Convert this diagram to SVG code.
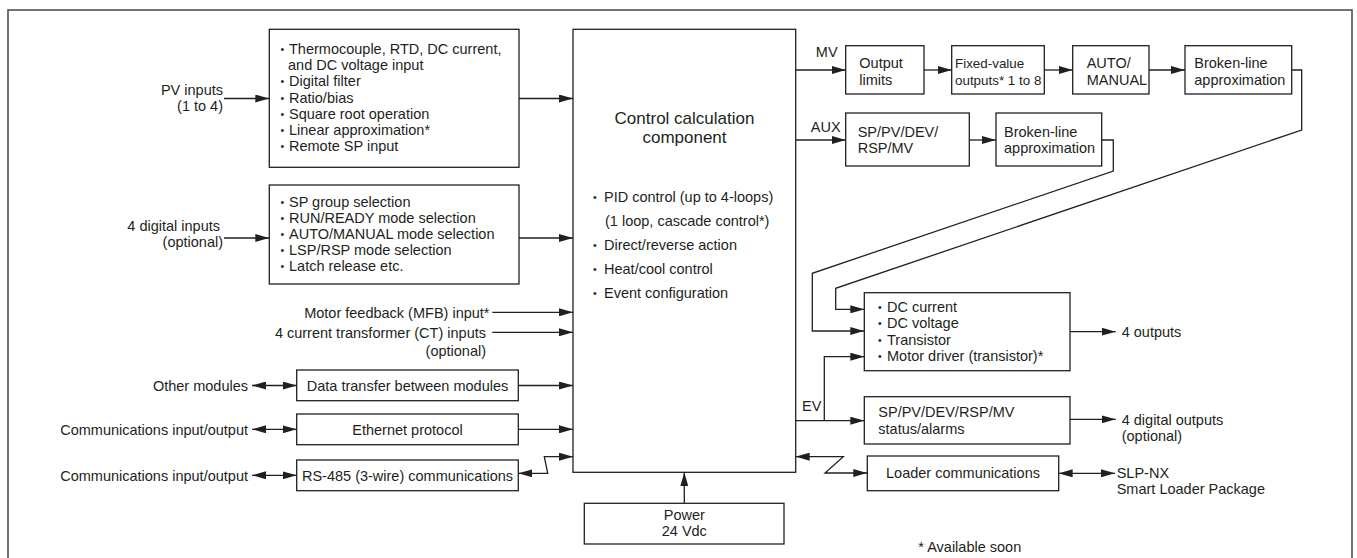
<svg xmlns="http://www.w3.org/2000/svg" width="1357" height="558" viewBox="0 0 1357 558">
<style>
text{font-family:"Liberation Sans",Arial,Helvetica,sans-serif;font-size:14.5px;fill:#231f20}
.b{font-size:10.5px}
.sm{font-size:13.4px}
.title{font-size:17px}
.mid{text-anchor:middle}
.end{text-anchor:end}
.box{fill:#fff;stroke:#231f20;stroke-width:1.3}
.ln{fill:none;stroke:#231f20;stroke-width:1.3}
.ar{marker-end:url(#ah)}
.ar2{marker-start:url(#ah);marker-end:url(#ah)}
</style>
<defs>
<marker id="ah" viewBox="0 0 14 8" refX="14" refY="4" markerWidth="14" markerHeight="8" markerUnits="userSpaceOnUse" orient="auto-start-reverse">
<path d="M0,0 L14,4 L0,8 z" fill="#231f20"/>
</marker>
</defs>
<rect width="1357" height="558" fill="#fff"/>
<path d="M8,558 V10 H1352 V558" fill="none" stroke="#444" stroke-width="1.5"/>

<g id="labels-left">
<text class="end" x="223" y="95">PV inputs</text>
<text class="end" x="223" y="111">(1 to 4)</text>
<text class="end" x="220" y="231">4 digital inputs</text>
<text class="end" x="223" y="247">(optional)</text>
<text class="end" x="489.5" y="317.5">Motor feedback (MFB) input*</text>
<text class="end" x="486" y="337.5">4 current transformer (CT) inputs</text>
<text class="end" x="486" y="356">(optional)</text>
<text class="end" x="248" y="390.5">Other modules</text>
<text class="end" x="248" y="434.5">Communications input/output</text>
<text class="end" x="248" y="480.5">Communications input/output</text>
</g>

<g id="node-pv">
<rect class="box" x="269.3" y="29.3" width="249.7" height="138"/>
<text x="280.5" y="54"><tspan class="b" dy="-1">•</tspan><tspan x="289" dy="1">Thermocouple, RTD, DC current,</tspan></text>
<text x="288" y="70">and DC voltage input</text>
<text x="280.5" y="86"><tspan class="b" dy="-1">•</tspan><tspan x="289" dy="1">Digital filter</tspan></text>
<text x="280.5" y="102.5"><tspan class="b" dy="-1">•</tspan><tspan x="289" dy="1">Ratio/bias</tspan></text>
<text x="280.5" y="118.5"><tspan class="b" dy="-1">•</tspan><tspan x="289" dy="1">Square root operation</tspan></text>
<text x="280.5" y="134.5"><tspan class="b" dy="-1">•</tspan><tspan x="289" dy="1">Linear approximation*</tspan></text>
<text x="280.5" y="150.5"><tspan class="b" dy="-1">•</tspan><tspan x="289" dy="1">Remote SP input</tspan></text>
</g>

<g id="node-digital">
<rect class="box" x="269.3" y="185" width="249.7" height="99"/>
<text x="280.5" y="206.5"><tspan class="b" dy="-1">•</tspan><tspan x="289" dy="1">SP group selection</tspan></text>
<text x="280.5" y="222.5"><tspan class="b" dy="-1">•</tspan><tspan x="289" dy="1">RUN/READY mode selection</tspan></text>
<text x="280.5" y="238.5"><tspan class="b" dy="-1">•</tspan><tspan x="289" dy="1">AUTO/MANUAL mode selection</tspan></text>
<text x="280.5" y="254.5"><tspan class="b" dy="-1">•</tspan><tspan x="289" dy="1">LSP/RSP mode selection</tspan></text>
<text x="280.5" y="270.5"><tspan class="b" dy="-1">•</tspan><tspan x="289" dy="1">Latch release etc.</tspan></text>
</g>

<g id="node-datatransfer">
<rect class="box" x="296.7" y="370" width="221.6" height="30.7"/>
<text class="mid" x="407.5" y="391">Data transfer between modules</text>
</g>
<g id="node-ethernet">
<rect class="box" x="296.7" y="414" width="221.6" height="30.7"/>
<text class="mid" x="407.5" y="434.5">Ethernet protocol</text>
</g>
<g id="node-rs485">
<rect class="box" x="296.7" y="460" width="221.6" height="30.7"/>
<text class="mid" x="407.5" y="480.5">RS-485 (3-wire) communications</text>
</g>

<g id="node-control">
<rect class="box" x="573" y="29.3" width="222.7" height="443"/>
<text class="title mid" x="684.5" y="124">Control calculation</text>
<text class="title mid" x="684.5" y="143">component</text>
<text x="593" y="202"><tspan class="b" dy="-1">•</tspan><tspan x="604" dy="1">PID control (up to 4-loops)</tspan></text>
<text x="605" y="226">(1 loop, cascade control*)</text>
<text x="593" y="250"><tspan class="b" dy="-1">•</tspan><tspan x="604" dy="1">Direct/reverse action</tspan></text>
<text x="593" y="274"><tspan class="b" dy="-1">•</tspan><tspan x="604" dy="1">Heat/cool control</tspan></text>
<text x="593" y="298"><tspan class="b" dy="-1">•</tspan><tspan x="604" dy="1">Event configuration</tspan></text>
</g>

<g id="node-power">
<rect class="box" x="584.3" y="503.3" width="199.7" height="40.7"/>
<text class="mid" x="684.3" y="520">Power</text>
<text class="mid" x="684.3" y="536">24 Vdc</text>
</g>

<g id="node-outputlimits">
<rect class="box" x="845.7" y="45.7" width="78.3" height="48.3"/>
<text x="859.3" y="68">Output</text>
<text x="859.3" y="84.5">limits</text>
</g>
<g id="node-fixedvalue">
<rect class="box" x="951.7" y="45.7" width="92.6" height="48.3"/>
<text class="sm" x="955" y="67.5">Fixed-value</text>
<text class="sm" x="955" y="84.5">outputs* 1 to 8</text>
</g>
<g id="node-automanual">
<rect class="box" x="1072.7" y="45.7" width="76.3" height="48.3"/>
<text x="1086.7" y="68">AUTO/</text>
<text x="1086.7" y="85">MANUAL</text>
</g>
<g id="node-broken1">
<rect class="box" x="1185" y="45.7" width="106.7" height="48.3"/>
<text x="1194.3" y="68">Broken-line</text>
<text x="1194.3" y="85">approximation</text>
</g>

<g id="node-aux">
<rect class="box" x="845.7" y="113" width="123.6" height="53"/>
<text x="857.7" y="137">SP/PV/DEV/</text>
<text x="857.7" y="153">RSP/MV</text>
</g>
<g id="node-broken2">
<rect class="box" x="996" y="113" width="105.7" height="53"/>
<text x="1004" y="137">Broken-line</text>
<text x="1004" y="153">approximation</text>
</g>

<g id="node-outputs">
<rect class="box" x="864.3" y="292.7" width="205.7" height="78"/>
<text x="878" y="312"><tspan class="b" dy="-1">•</tspan><tspan x="887" dy="1">DC current</tspan></text>
<text x="878" y="328"><tspan class="b" dy="-1">•</tspan><tspan x="887" dy="1">DC voltage</tspan></text>
<text x="878" y="344.5"><tspan class="b" dy="-1">•</tspan><tspan x="887" dy="1">Transistor</tspan></text>
<text x="878" y="361"><tspan class="b" dy="-1">•</tspan><tspan x="887" dy="1">Motor driver (transistor)*</tspan></text>
</g>
<g id="node-status">
<rect class="box" x="864.3" y="396.7" width="205.7" height="47.3"/>
<text x="878.3" y="417">SP/PV/DEV/RSP/MV</text>
<text x="878.3" y="433.5">status/alarms</text>
</g>
<g id="node-loader">
<rect class="box" x="867.3" y="456" width="191.4" height="34.7"/>
<text class="mid" x="963" y="478">Loader communications</text>
</g>

<g id="labels-right">
<text class="mid" x="826.7" y="57">MV</text>
<text class="mid" x="825.7" y="132">AUX</text>
<text class="mid" x="811.7" y="411">EV</text>
<text x="1121.7" y="337">4 outputs</text>
<text x="1121.7" y="424.5">4 digital outputs</text>
<text x="1121.7" y="441">(optional)</text>
<text x="1116.7" y="478">SLP-NX</text>
<text x="1116.7" y="493.5">Smart Loader Package</text>
<text x="918.3" y="551.5">* Available soon</text>
</g>

<g id="connectors">
<path class="ln ar" d="M224,98.5 H269.3"/>
<path class="ln ar" d="M519,98.5 H573"/>
<path class="ln ar" d="M224,238 H269.3"/>
<path class="ln ar" d="M519,238 H573"/>
<path class="ln ar" d="M492.3,312.3 H573"/>
<path class="ln ar" d="M492.3,332.3 H573"/>
<path class="ln ar2" d="M252,385.5 H296.7"/>
<path class="ln ar" d="M518.3,385.5 H573"/>
<path class="ln ar2" d="M252,429.3 H296.7"/>
<path class="ln ar" d="M518.3,429.3 H573"/>
<path class="ln ar2" d="M252,475.3 H296.7"/>
<path class="ln ar2" d="M573,456.7 H544.3 L547.7,473.3 H518.3"/>
<path class="ln ar" d="M684.3,503.3 V472.3"/>
<path class="ln ar" d="M795.7,70 H845.7"/>
<path class="ln ar" d="M924,70 H951.7"/>
<path class="ln ar" d="M1044.3,70 H1072.7"/>
<path class="ln ar" d="M1149,70 H1185"/>
<path class="ln ar" d="M795.7,140 H845.7"/>
<path class="ln ar" d="M969.3,140 H996"/>
<path class="ln ar" d="M1291.7,70 H1301.7 V130 L835.7,288.3 V309.3 H864.3"/>
<path class="ln ar" d="M1101.7,140 H1113.3 V171 L812.3,273.3 V331 H864.3"/>
<path class="ln ar" d="M795.7,420.7 H864.3"/>
<path class="ln ar" d="M824.3,420.7 V356.7 H864.3"/>
<path class="ln ar" d="M1070,331.7 H1115.7"/>
<path class="ln ar" d="M1070,419.3 H1115.7"/>
<path class="ln ar2" d="M795.7,456.7 H843.3 L825,473 H867.3"/>
<path class="ln ar2" d="M1058.7,473.3 H1115"/>
</g>
</svg>
